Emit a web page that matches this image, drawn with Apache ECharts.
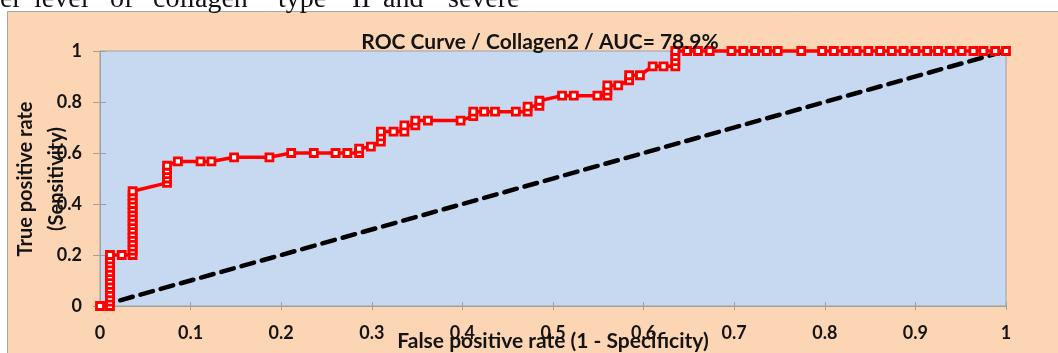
<!DOCTYPE html>
<html>
<head>
<meta charset="utf-8">
<script src="https://cdn.jsdelivr.net/npm/echarts@6/dist/echarts.min.js"></script>
<style>
html,body{margin:0;padding:0;background:#fff;}
#chart{width:1058px;height:353px;}
</style>
</head>
<body>
<div id="chart"></div>
<script>
// ---- data ----
const chartTitle = 'ROC Curve / Collagen2 / AUC= 78.9%';
const xAxisTitle = 'False positive rate (1 - Specificity)';
const yAxisTitleLines = ['True positive rate', '(Sensitivity)'];
const headerWords = ['er', 'level', 'of', 'collagen', 'type', 'II', 'and', 'severe'];

const fpr = [
  0, 0.011, 0.011, 0.011, 0.011, 0.011, 0.011, 0.011, 0.011, 0.011, 0.011, 0.011, 0.011, 0.011,
  0.024,
  0.036, 0.036, 0.036, 0.036, 0.036, 0.036, 0.036, 0.036, 0.036, 0.036, 0.036, 0.036, 0.036, 0.036, 0.036, 0.036,
  0.074, 0.074, 0.074, 0.074, 0.074,
  0.086, 0.111, 0.123, 0.148, 0.187,
  0.211, 0.236, 0.260, 0.273, 0.286, 0.286,
  0.299, 0.310, 0.310, 0.310, 0.324, 0.336, 0.336, 0.348, 0.348, 0.362, 0.398,
  0.412, 0.412, 0.424, 0.436, 0.459, 0.472, 0.472, 0.485, 0.485,
  0.510, 0.523, 0.549, 0.560, 0.560, 0.560, 0.572, 0.584, 0.584, 0.596,
  0.610, 0.622, 0.635, 0.635, 0.635, 0.635,
  0.648, 0.660, 0.673, 0.697, 0.710, 0.723, 0.736, 0.748, 0.774, 0.797, 0.810, 0.823, 0.835,
  0.848, 0.861, 0.874, 0.887, 0.900, 0.913, 0.925, 0.938, 0.951, 0.964, 0.975, 0.988, 1.0
];
const tpr = [
  0, 0, 0.017, 0.033, 0.05, 0.067, 0.083, 0.1, 0.117, 0.133, 0.15, 0.167, 0.183, 0.2,
  0.2,
  0.2, 0.217, 0.233, 0.25, 0.267, 0.283, 0.3, 0.317, 0.333, 0.35, 0.367, 0.383, 0.4, 0.417, 0.433, 0.45,
  0.483, 0.5, 0.517, 0.533, 0.55,
  0.567, 0.567, 0.567, 0.583, 0.583,
  0.6, 0.6, 0.6, 0.6, 0.6, 0.617,
  0.625, 0.645, 0.665, 0.684, 0.684, 0.684, 0.708, 0.708, 0.727, 0.727, 0.727,
  0.745, 0.762, 0.762, 0.762, 0.762, 0.762, 0.782, 0.785, 0.805,
  0.825, 0.825, 0.825, 0.825, 0.845, 0.865, 0.865, 0.885, 0.905, 0.905,
  0.94, 0.94, 0.94, 0.96, 0.98, 1.0,
  1, 1, 1, 1, 1, 1, 1, 1, 1, 1, 1, 1, 1,
  1, 1, 1, 1, 1, 1, 1, 1, 1, 1, 1, 1, 1
];
const diagonalX = [0, 1];
const diagonalY = [0, 1];

// ---- chart ----
const chart = echarts.init(document.getElementById('chart'), null, {renderer: 'canvas'});
const FONT = 'Lato, "Open Sans", sans-serif';
const TXT = '#141414';
const rocData = fpr.map((x, i) => [x, tpr[i]]);
const diagData = diagonalX.map((x, i) => [x, diagonalY[i]]);
const headerX = [0, 34, 110, 153, 278, 352, 383, 448];

const graphics = [
  {type: 'rect', z: -10, shape: {x: 7.5, y: 11.5, width: 1060, height: 350},
   style: {fill: '#FCD5B5', stroke: '#a6a6a6', lineWidth: 1}}
];
headerWords.forEach((w, i) => {
  graphics.push({type: 'text', x: headerX[i], y: 14, z: -5,
    style: {text: w, fill: '#111', font: '28px "Liberation Serif", "DejaVu Serif", serif',
      textAlign: 'left', textVerticalAlign: 'bottom'}});
});
graphics.push({type: 'text', x: 540, y: 42, z: 10,
  style: {text: chartTitle, fill: TXT, font: 'bold 21px ' + FONT, textAlign: 'center', textVerticalAlign: 'middle'}});
graphics.push({type: 'text', x: 553, y: 341, z: 10,
  style: {text: xAxisTitle, fill: TXT, font: 'bold 21px ' + FONT, textAlign: 'center', textVerticalAlign: 'middle'}});
graphics.push({type: 'text', x: 26, y: 179, rotation: Math.PI / 2, z: 10,
  style: {text: yAxisTitleLines[0], fill: TXT, font: 'bold 20px ' + FONT, textAlign: 'center', textVerticalAlign: 'middle'}});
graphics.push({type: 'text', x: 57, y: 179, rotation: Math.PI / 2, z: 10,
  style: {text: yAxisTitleLines[1], fill: TXT, font: 'bold 20px ' + FONT, textAlign: 'center', textVerticalAlign: 'middle'}});

const labelFmt = v => (Math.round(v * 10) / 10).toString();

chart.setOption({
  animation: false,
  backgroundColor: 'transparent',
  graphic: graphics,
  grid: {left: 100, right: 52, top: 51, bottom: 47, show: true,
    backgroundColor: '#C6D9F1', borderColor: '#a0a0a0', borderWidth: 1},
  xAxis: [
    {type: 'value', min: 0, max: 1, interval: 0.1, position: 'bottom',
     axisLine: {show: true, onZero: false, lineStyle: {color: '#a0a0a0', width: 1}},
     axisTick: {show: true, inside: false, length: 4, lineStyle: {color: '#a0a0a0'}},
     axisLabel: {show: true, margin: 18, fontSize: 18, fontWeight: 'bold', color: TXT, fontFamily: FONT, formatter: labelFmt},
     splitLine: {show: false}},
    {type: 'value', min: 0, max: 1, interval: 0.1, position: 'bottom',
     axisLine: {show: false, onZero: false},
     axisTick: {show: true, inside: true, length: 4, lineStyle: {color: '#a0a0a0'}},
     axisLabel: {show: false}, splitLine: {show: false}}
  ],
  yAxis: [
    {type: 'value', min: 0, max: 1, interval: 0.2, position: 'left',
     axisLine: {show: true, onZero: false, lineStyle: {color: '#a0a0a0', width: 1}},
     axisTick: {show: true, inside: false, length: 7, lineStyle: {color: '#a0a0a0'}},
     axisLabel: {show: true, margin: 18, fontSize: 18, fontWeight: 'bold', color: TXT, fontFamily: FONT, formatter: labelFmt},
     splitLine: {show: false}},
    {type: 'value', min: 0, max: 1, interval: 0.2, position: 'left',
     axisLine: {show: false, onZero: false},
     axisTick: {show: true, inside: true, length: 6, lineStyle: {color: '#a0a0a0'}},
     axisLabel: {show: false}, splitLine: {show: false}}
  ],
  series: [
    {type: 'line', name: 'diag', data: diagData, xAxisIndex: 0, yAxisIndex: 0,
     showSymbol: false, symbol: 'none', clip: false, z: 2,
     lineStyle: {color: '#000', width: 4.5, type: [13, 8], cap: 'round'}},
    {type: 'line', name: 'ROC', data: rocData, xAxisIndex: 0, yAxisIndex: 0,
     symbol: 'rect', symbolSize: 7, showAllSymbol: true, clip: false, z: 3,
     lineStyle: {color: '#FF0000', width: 3.5},
     itemStyle: {color: '#ffffff', borderColor: '#FF0000', borderWidth: 2.8}}
  ]
});
</script>
</body>
</html>
